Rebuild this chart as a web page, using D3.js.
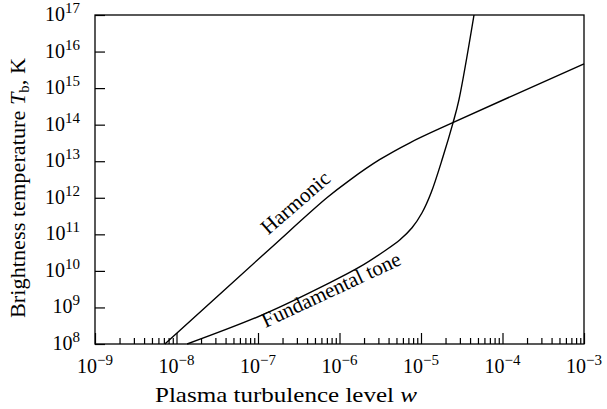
<!DOCTYPE html>
<html>
<head>
<meta charset="utf-8">
<script src="https://cdn.jsdelivr.net/npm/d3@7"></script>
<style>
  body { margin: 0; background: #fff; }
  svg { display: block; }
  text { font-family: "Liberation Serif", "Times New Roman", serif; fill: #000; }
</style>
</head>
<body>
<svg id="chart"></svg>
<script>
// decades on each axis
var xExps = [-9, -8, -7, -6, -5, -4, -3];
var yExps = [8, 9, 10, 11, 12, 13, 14, 15, 16, 17];

// harmonic emission curve (w, Tb)
var harmW = [7.2e-9, 1.36e-7, 7.0e-7, 1.35e-6, 3.1e-6, 7.3e-6, 2.27e-5, 1e-3];
var harmT = [1e8, 3.8e10, 1.0e12, 3.1e12, 1.1e13, 3.2e13, 1.05e14, 4.6e15];

// fundamental tone curve (w, Tb)
var fundW = [1.35e-8, 1.15e-7, 7.64e-7, 1.79e-6, 3.61e-6, 5.52e-6, 7.76e-6, 1.03e-5, 1.33e-5, 1.86e-5, 2.47e-5, 2.92e-5, 4.47e-5];
var fundT = [1e8, 6.35e8, 4.76e9, 1.30e10, 3.56e10, 7.11e10, 1.51e11, 3.89e11, 1.37e12, 1.32e13, 1.12e14, 4.77e14, 1e17];

(function () {
	var W = 607, H = 409;
	var pl = 95, pr = 584, pt = 15, pb = 344;

	var svg = d3.select("#chart").attr("width", W).attr("height", H);

	var x = d3.scaleLog().domain([1e-9, 1e-3]).range([pl, pr]);
	var y = d3.scaleLog().domain([1e8, 1e17]).range([pb, pt]);

	// minor + major ticks on x (pointing inward)
	var minorX = [];
	xExps.slice(0, -1).forEach(function (e) {
		for (var k = 2; k <= 9; k++) minorX.push(k * Math.pow(10, e));
	});
	var majorX = xExps.map(function (e) { return Math.pow(10, e); });
	var majorY = yExps.map(function (e) { return Math.pow(10, e); });

	svg.append("g")
		.attr("transform", "translate(0," + pb + ")")
		.call(d3.axisBottom(x).tickValues(minorX).tickSize(-6).tickFormat(""))
		.call(function (g) { g.select(".domain").remove(); });
	svg.append("g")
		.attr("transform", "translate(0," + pb + ")")
		.call(d3.axisBottom(x).tickValues(majorX).tickSize(-11).tickFormat(""))
		.call(function (g) { g.select(".domain").remove(); });
	svg.append("g")
		.attr("transform", "translate(" + pl + ",0)")
		.call(d3.axisLeft(y).tickValues(majorY).tickSize(-10).tickFormat(""))
		.call(function (g) { g.select(".domain").remove(); });
	svg.selectAll(".tick line").attr("stroke", "#000").attr("stroke-width", 1.2);

	// frame
	svg.append("rect")
		.attr("x", pl).attr("y", pt)
		.attr("width", pr - pl).attr("height", pb - pt)
		.attr("fill", "none").attr("stroke", "#000").attr("stroke-width", 1.3);

	// tick labels
	function powLabel(sel, e) {
		sel.append("tspan").text("10");
		sel.append("tspan").attr("dy", -8).attr("font-size", 15)
			.text(e < 0 ? "\u2212" + (-e) : String(e));
	}
	xExps.forEach(function (e) {
		var t = svg.append("text")
			.attr("x", x(Math.pow(10, e))).attr("y", 373)
			.attr("text-anchor", "middle").attr("font-size", 20);
		powLabel(t, e);
	});
	yExps.forEach(function (e) {
		var t = svg.append("text")
			.attr("x", 80).attr("y", y(Math.pow(10, e)) + 6)
			.attr("text-anchor", "end").attr("font-size", 20);
		powLabel(t, e);
	});

	// axis titles
	var xt = svg.append("text").attr("x", 286).attr("y", 402)
		.attr("text-anchor", "middle").attr("font-size", 21)
		.attr("textLength", 262).attr("lengthAdjust", "spacingAndGlyphs");
	xt.append("tspan").text("Plasma turbulence level ");
	xt.append("tspan").attr("font-style", "italic").text("w");

	var yt = svg.append("text")
		.attr("transform", "translate(25,188) rotate(-90)")
		.attr("text-anchor", "middle").attr("font-size", 21)
		.attr("textLength", 260).attr("lengthAdjust", "spacingAndGlyphs");
	yt.append("tspan").text("Brightness temperature ");
	yt.append("tspan").attr("font-style", "italic").text("T");
	yt.append("tspan").attr("font-size", 14).attr("dy", 4).text("b");
	yt.append("tspan").attr("dy", -4).text(", K");

	// curves
	var line = d3.line()
		.x(function (d) { return x(d[0]); })
		.y(function (d) { return y(d[1]); })
		.curve(d3.curveCatmullRom.alpha(0.5));

	svg.append("path")
		.datum(d3.zip(harmW, harmT))
		.attr("d", line)
		.attr("fill", "none").attr("stroke", "#000").attr("stroke-width", 1.4);
	svg.append("path")
		.datum(d3.zip(fundW, fundT))
		.attr("d", line)
		.attr("fill", "none").attr("stroke", "#000").attr("stroke-width", 1.4);

	// curve labels
	svg.append("text")
		.attr("transform", "translate(300,208) rotate(-41)")
		.attr("text-anchor", "middle").attr("font-size", 21)
		.text("Harmonic");
	svg.append("text")
		.attr("transform", "translate(334,296) rotate(-25)")
		.attr("text-anchor", "middle").attr("font-size", 21)
		.text("Fundamental tone");
})();
</script>
</body>
</html>
